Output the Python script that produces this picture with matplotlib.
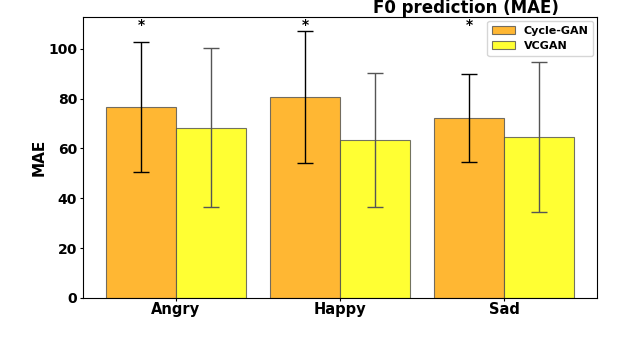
import matplotlib
matplotlib.use("Agg")
import matplotlib.pyplot as plt
import numpy as np

categories = ["Angry", "Happy", "Sad"]
cyclegan_mae = [76.5, 80.6, 72.2]
cyclegan_err = [26.0, 26.6, 17.8]
vcgan_mae = [68.3, 63.3, 64.5]
vcgan_err = [32.0, 26.8, 30.0]
series_names = ["Cycle-GAN", "VCGAN"]
significance = ["*", "*", "*"]

fig = plt.figure(figsize=(6.32, 3.48), dpi=100)
ax = fig.add_axes([0.131, 0.144, 0.814, 0.807])

x = np.arange(len(categories))
w = 0.425
ax.bar(x - w / 2, cyclegan_mae, w, yerr=cyclegan_err, color="orange", alpha=0.8,
       edgecolor="#505050", linewidth=0.8, label=series_names[0],
       error_kw=dict(ecolor="black", capsize=6, elinewidth=1, capthick=1))
ax.bar(x + w / 2, vcgan_mae, w, yerr=vcgan_err, color="yellow", alpha=0.8,
       edgecolor="#505050", linewidth=0.8, label=series_names[1],
       error_kw=dict(ecolor="#555555", capsize=6, elinewidth=1, capthick=1))

for xi, s in zip(x, significance):
    ax.text(xi - w / 2, 109.4, s, ha="center", va="center", fontsize=10, fontweight="bold")

ax.set_xlim(-0.567, 2.567)
ax.set_ylim(0, 112.7)
ax.set_xticks(x)
ax.set_xticklabels(categories, fontsize=10.5, fontweight="bold")
ax.set_yticks(np.arange(0, 101, 20))
ax.tick_params(axis="y", labelsize=10, length=2, pad=2)
ax.tick_params(axis="x", length=2, pad=1)
for lab in ax.get_yticklabels():
    lab.set_fontweight("bold")
ax.set_ylabel("MAE", fontsize=11, fontweight="bold", labelpad=1)
ax.set_title("F0 prediction (MAE)", fontsize=12, fontweight="bold", x=0.745, pad=1)
ax.legend(loc="upper right", prop=dict(size=8, weight="bold"),
          borderpad=0.45, labelspacing=0.45, borderaxespad=0.35)

fig.savefig("out.png", dpi=100)
